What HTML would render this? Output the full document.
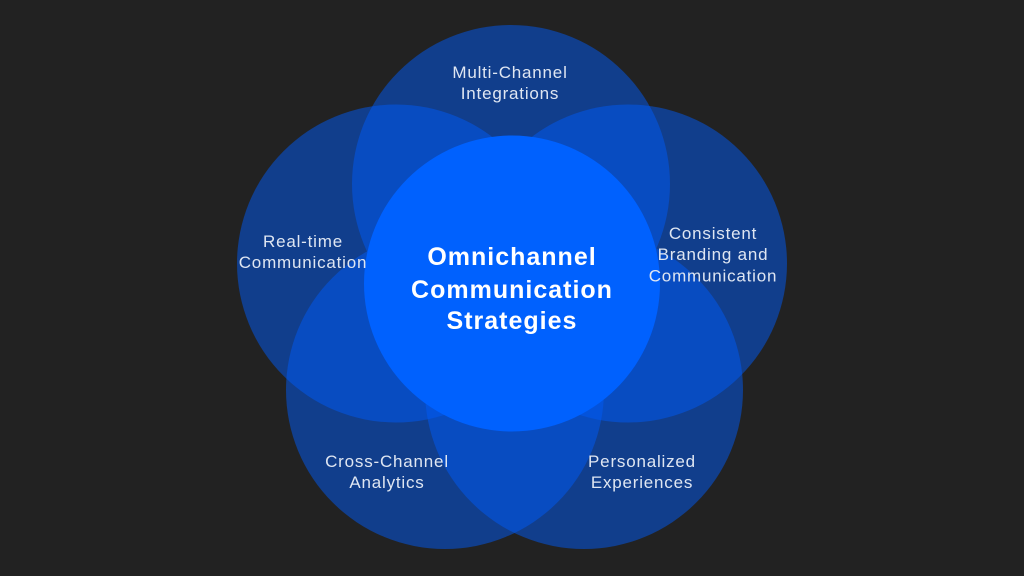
<!DOCTYPE html>
<html>
<head>
<meta charset="utf-8">
<style>
  html, body { margin:0; padding:0; width:1024px; height:576px; overflow:hidden; background:#222222; }
  svg { display:block; }
  .lbl { font-family:"Liberation Sans", "DejaVu Sans", sans-serif; font-size:17px; fill:#dfe6f2; letter-spacing:0.8px; }
  .ttl { font-family:"Liberation Sans", "DejaVu Sans", sans-serif; font-size:25px; font-weight:bold; fill:#ffffff; letter-spacing:1px; }
</style>
</head>
<body>
<svg width="1024" height="576" viewBox="0 0 1024 576" xmlns="http://www.w3.org/2000/svg">
  <rect width="1024" height="576" fill="#222222"/>
  <g fill="rgb(0,90,246)" fill-opacity="0.5">
    <circle cx="511" cy="184" r="159"/>
    <circle cx="396" cy="263.5" r="159"/>
    <circle cx="628" cy="263.5" r="159"/>
    <circle cx="445" cy="390" r="159"/>
    <circle cx="584" cy="390" r="159"/>
  </g>
  <circle cx="512" cy="283.5" r="148" fill="#0061fe"/>

  <text class="lbl" text-anchor="middle" x="510" y="78">Multi-Channel</text>
  <text class="lbl" text-anchor="middle" x="510" y="99">Integrations</text>

  <text class="lbl" text-anchor="middle" x="303" y="247">Real-time</text>
  <text class="lbl" text-anchor="middle" x="303" y="268">Communication</text>

  <text class="lbl" text-anchor="middle" x="713" y="239">Consistent</text>
  <text class="lbl" text-anchor="middle" x="713" y="260">Branding and</text>
  <text class="lbl" text-anchor="middle" x="713" y="281.5">Communication</text>

  <text class="lbl" text-anchor="middle" x="387" y="467">Cross-Channel</text>
  <text class="lbl" text-anchor="middle" x="387" y="488">Analytics</text>

  <text class="lbl" text-anchor="middle" x="642" y="467">Personalized</text>
  <text class="lbl" text-anchor="middle" x="642" y="488">Experiences</text>

  <text class="ttl" text-anchor="middle" x="512" y="265">Omnichannel</text>
  <text class="ttl" text-anchor="middle" x="512" y="298">Communication</text>
  <text class="ttl" text-anchor="middle" x="512" y="329">Strategies</text>
</svg>
</body>
</html>
